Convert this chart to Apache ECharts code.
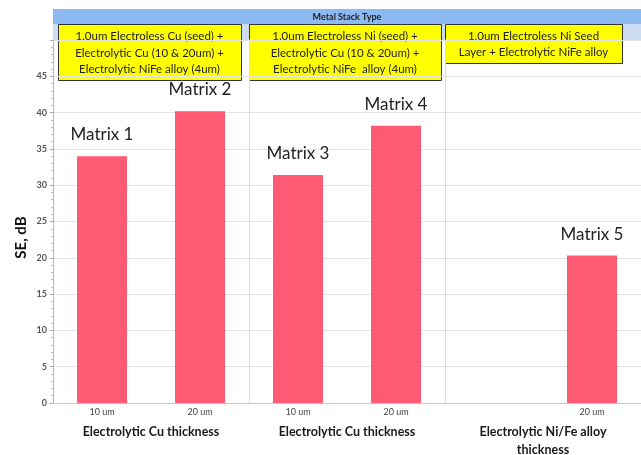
<!DOCTYPE html>
<html>
<head>
<meta charset="utf-8">
<script src="https://cdn.jsdelivr.net/npm/echarts@6/dist/echarts.min.js"></script>
<style>
  html, body { margin: 0; padding: 0; background: #fff; }
  #chart { width: 641px; height: 455px; }
</style>
</head>
<body>
<div id="chart"></div>
<script>
// data
const thicknessLabels = ['10 um', '20 um']
const niFeLabels = ['', '20 um']
const cuSeedValues = [34.0, 40.2]
const niSeedValues = [31.4, 38.2]
const niOnlyValues = [null, 20.3]
const cuSeedNames = ['Matrix 1', 'Matrix 2']
const niSeedNames = ['Matrix 3', 'Matrix 4']
const niOnlyNames = ['', 'Matrix 5']
const groupNames = ['Electrolytic Cu thickness', 'Electrolytic Cu thickness', 'Electrolytic Ni/Fe alloy\nthickness']
const stackTypes = [
  '1.0um Electroless Cu (seed) +\nElectrolytic Cu (10 & 20um) +\nElectrolytic NiFe alloy (4um)',
  '1.0um Electroless Ni (seed) +\nElectrolytic Cu (10 & 20um) +\nElectrolytic NiFe  alloy (4um)',
  '1.0um Electroless Ni Seed\nLayer + Electrolytic NiFe alloy'
]
const yTicks = { min: 0, max: 50, interval: 5 }

const font = 'Lato, "Open Sans", sans-serif'
const barColor = '#ff5a73'
const panelLeft = [53, 249, 445]
const panelWidth = 196
const plotTop = 40
const plotBottom = 52

const chart = echarts.init(document.getElementById('chart'))

const grids = panelLeft.map(l => ({
  left: l, width: panelWidth, top: plotTop, bottom: plotBottom, outerBoundsMode: 'none'
}))

const xAxes = [thicknessLabels, thicknessLabels, niFeLabels].map((cats, i) => ({
  type: 'category',
  gridIndex: i,
  data: cats,
  axisTick: { show: false },
  axisLine: { lineStyle: { color: '#c8c8c8' } },
  axisLabel: { fontSize: 9, color: '#444', fontFamily: font, margin: 5 },
  name: groupNames[i],
  nameLocation: 'middle',
  nameGap: 20,
  nameTextStyle: { fontSize: 12.5, fontWeight: 'bold', color: '#1a1a1a', fontFamily: font, lineHeight: 18 }
}))

const yAxes = [0, 1, 2].map(i => ({
  type: 'value',
  gridIndex: i,
  min: yTicks.min,
  max: yTicks.max,
  interval: yTicks.interval,
  name: i === 0 ? 'SE, dB' : '',
  nameLocation: 'middle',
  nameGap: 24,
  nameTextStyle: { fontSize: 15, fontWeight: 'bold', color: '#111', fontFamily: font, padding: [0, 32, 0, 0] },
  axisLine: i === 0
    ? { show: true, lineStyle: { color: '#aaa', type: 'dotted' } }
    : { show: true, lineStyle: { color: '#dcdcdc' } },
  axisTick: { show: i === 0, length: 3, lineStyle: { color: '#aaa' } },
  minorTick: { show: i === 0, splitNumber: 5, length: 2, lineStyle: { color: '#bbb' } },
  axisLabel: {
    show: i === 0,
    fontSize: 9,
    fontWeight: 'bold',
    color: '#555',
    fontFamily: font,
    margin: 6,
    formatter: v => (v === 50 ? '' : v)
  },
  splitLine: { show: true, lineStyle: { color: '#e3e3e3' } }
}))

const panels = [
  [cuSeedValues, cuSeedNames],
  [niSeedValues, niSeedNames],
  [niOnlyValues, niOnlyNames]
]

const series = panels.map(([vals, names], i) => ({
  type: 'bar',
  xAxisIndex: i,
  yAxisIndex: i,
  barWidth: 50,
  data: vals.map(v => (v === null ? '-' : v)),
  itemStyle: { color: barColor },
  label: {
    show: true,
    position: 'top',
    distance: 13,
    fontSize: 17,
    color: '#222',
    fontFamily: font,
    formatter: p => names[p.dataIndex]
  }
}))

// header band + stack-type boxes
const boxes = [
  { x: 58, w: 183, h: 56 },
  { x: 249, w: 192, h: 56 },
  { x: 445, w: 177, h: 39 }
]
const graphic = [
  { type: 'rect', shape: { x: 53, y: 9, width: 588, height: 15 }, style: { fill: '#8cb9f2' } },
  { type: 'rect', shape: { x: 53, y: 24, width: 588, height: 16 }, style: { fill: '#cbdcf3' } },
  {
    type: 'text', x: 347, y: 17,
    style: { text: 'Metal Stack Type', fontSize: 9, fontWeight: 'bold', fill: '#222', fontFamily: font, align: 'center', verticalAlign: 'middle' }
  }
]
boxes.forEach((b, i) => {
  graphic.push({
    type: 'rect',
    shape: { x: b.x + 0.5, y: 24.5, width: b.w, height: b.h },
    style: { fill: '#ffff00', stroke: '#333', lineWidth: 1 }
  })
  graphic.push({
    type: 'text',
    x: b.x + b.w / 2,
    y: 24 + b.h / 2 + 1,
    style: { text: stackTypes[i], fontSize: 11.5, lineHeight: 16.5, fill: '#222', fontFamily: font, align: 'center', verticalAlign: 'middle' }
  })
})

chart.setOption({
  animation: false,
  grid: grids,
  xAxis: xAxes,
  yAxis: yAxes,
  series: series,
  graphic: graphic
})
</script>
</body>
</html>
